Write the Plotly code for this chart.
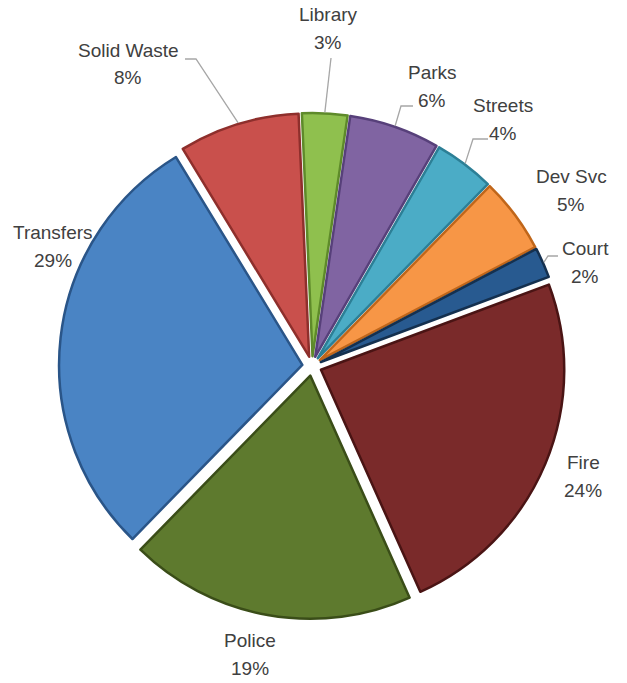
import math
import plotly.graph_objects as go

# Budget share by department (percent), clockwise from the top
departments = ["Library", "Parks", "Streets", "Dev Svc", "Court",
               "Fire", "Police", "Transfers", "Solid Waste"]
shares = [3, 6, 4, 5, 2, 24, 19, 29, 8]

colors = ["#8FC04E", "#8064A2", "#4BACC6", "#F79646", "#285A90",
          "#7A2A2A", "#5E7A2E", "#4A84C4", "#C9504C"]
edges = ["#5E8A2A", "#57407A", "#2C7F96", "#C0661A", "#14304F",
         "#4A1414", "#3A4D18", "#2A5588", "#8E2F2C"]

W, H = 627, 683
CX, CY = 312, 366          # pie centre in pixels
HALF = 253                 # half-size of the pie box in pixels
PULL = 0.04
ROTATION = -2.5
ROW_GAP = 14               # half the distance between name and percent rows

# label block centres (pixels) and leader-line waypoints near the text
label_pos = {
    "Library": (328, 29), "Parks": (432, 86), "Streets": (503, 119),
    "Dev Svc": (571, 190), "Court": (585, 262), "Fire": (583, 476),
    "Police": (250, 654), "Transfers": (53, 246), "Solid Waste": (128, 64),
}
leader_start = {
    "Solid Waste": [(185, 59), (196, 59)],
    "Library": [(331, 58)],
    "Parks": [(413, 106), (401, 106)],
    "Streets": [(488, 139), (473, 139)],
    "Court": [(558, 256), (548, 256)],
}


def px(x):
    return x / W


def py(y):
    return 1 - y / H


fig = go.Figure(go.Pie(
    labels=departments,
    values=shares,
    sort=False,
    direction="clockwise",
    rotation=ROTATION,
    pull=[PULL] * len(shares),
    marker=dict(colors=colors, line=dict(color=edges, width=2.5)),
    textinfo="none",
    hoverinfo="label+percent",
    showlegend=False,
    domain=dict(x=[px(CX - HALF), px(CX + HALF)],
                y=[py(CY + HALF), py(CY - HALF)]),
))

# slice mid-angles (degrees clockwise from 12 o'clock), from the data
total = sum(shares)
radius = HALF / (1 + PULL)
mid_angle = {}
acc = 0.0
for name, v in zip(departments, shares):
    mid_angle[name] = ROTATION + (acc + v / 2) / total * 360
    acc += v

font = dict(family="Liberation Sans, Arial", size=19, color="#404040")

annotations = []
for name, v in zip(departments, shares):
    x, y = label_pos[name]
    for text, yy in ((name, y - ROW_GAP), (f"{v}%", y + ROW_GAP)):
        annotations.append(dict(
            x=px(x), y=py(yy), xref="paper", yref="paper",
            text=text, showarrow=False, font=font,
            xanchor="center", yanchor="middle", align="center",
        ))

shapes = []
for name, pts in leader_start.items():
    a = math.radians(mid_angle[name])
    r_end = radius * (1 + PULL) + 1
    end = (CX + r_end * math.sin(a), CY - r_end * math.cos(a))
    path_pts = pts + [end]
    path = "M " + " L ".join(f"{px(x):.5f},{py(y):.5f}" for x, y in path_pts)
    shapes.append(dict(type="path", path=path, xref="paper", yref="paper",
                       line=dict(color="#A6A6A6", width=1.3)))

fig.update_layout(
    width=W, height=H,
    margin=dict(l=0, r=0, t=0, b=0),
    paper_bgcolor="white",
    plot_bgcolor="white",
    annotations=annotations,
    shapes=shapes,
)

fig.write_html("out.html")
